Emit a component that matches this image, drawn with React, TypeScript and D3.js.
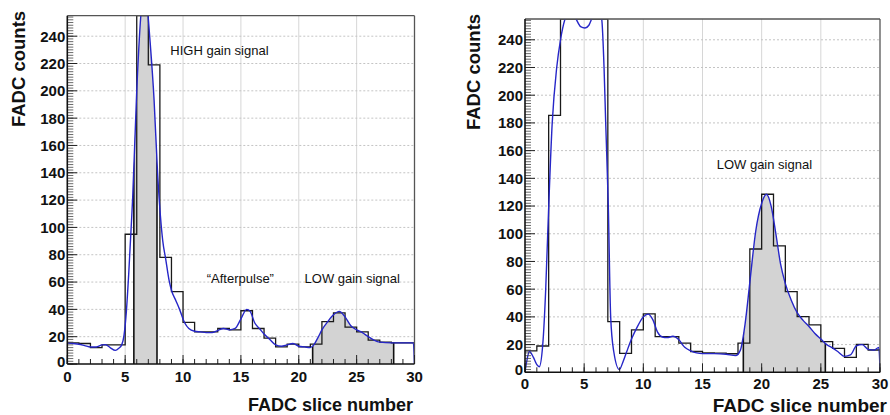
import React from "react";
import * as d3 from "d3";

const W = 890;
const H = 415;

const xTickValues = [0, 5, 10, 15, 20, 25, 30];
const yTickValues = [0, 20, 40, 60, 80, 100, 120, 140, 160, 180, 200, 220, 240];
const xDomain = [0, 30];
const yDomain = [0, 255];

// FADC counts per slice (bin i spans [i, i+1])
const leftHist = [15.5, 15, 12, 14, 14, 95, 255, 219, 78, 53, 30.5, 23.5, 23.5, 26, 25, 39, 26, 19, 12.5, 14.5, 12.5, 14.5, 31, 37.5, 27, 23.5, 17.5, 16, 15.5, 15.5];
const rightHist = [15.5, 19, 185.5, 255, 255, 255, 255, 36.6, 13.7, 30.6, 42.2, 25.8, 25.8, 21, 15, 14, 13.8, 13.4, 21, 89, 128.5, 91.3, 58.3, 40.2, 34.2, 22.1, 17.3, 10.8, 20.2, 16.1];

// interpolated pulse shape (blue): [slice, counts]
const leftCurve: [number, number][] = [
  [0, 15.5], [0.5, 15], [1, 14.5], [1.5, 13.5], [2, 12.5], [2.5, 12.5], [3, 14], [3.3, 14.2], [3.7, 12],
  [4.15, 10], [4.45, 11.5], [4.7, 14], [4.9, 21], [5.1, 38], [5.3, 65], [5.55, 105], [5.65, 122],
  [6.0, 200], [6.35, 255], [6.65, 280], [6.98, 255], [7.1, 242], [7.5, 193], [7.8, 140], [8.05, 108],
  [8.25, 90], [8.5, 77], [8.8, 61], [9.0, 54], [9.4, 46], [9.7, 40], [10.15, 30], [10.5, 26], [11, 24],
  [11.5, 23.5], [12, 23], [12.5, 23], [13, 24.5], [13.5, 26], [14, 25], [14.5, 26], [15, 33], [15.5, 40],
  [15.8, 38.5], [16.2, 30], [16.6, 26], [17, 22], [17.5, 18], [18, 14], [18.5, 13], [19, 14], [19.5, 15],
  [20, 13], [20.5, 12.5], [21, 12], [21.3, 14], [21.7, 20], [22, 25], [22.5, 31], [23, 36], [23.5, 38.5],
  [24, 34.5], [24.5, 28], [25, 25], [25.5, 23], [26, 20], [26.5, 17.5], [27, 16], [28, 15.5], [29, 15.5],
  [29.9, 15.5], [30, 0],
];
const rightCurve: [number, number][] = [
  [0, 0], [0.15, 8], [0.37, 15], [0.7, 11], [1.0, 5.5], [1.2, 4], [1.5, 20], [1.75, 60], [1.92, 100],
  [2.3, 180], [2.68, 220], [3.0, 240], [3.38, 255], [3.8, 262], [4.31, 255], [4.7, 249.5], [5.07, 248.5],
  [5.4, 250.5], [5.63, 255], [6.05, 264], [6.48, 255], [6.68, 220], [6.82, 180], [7.04, 120], [7.24, 40],
  [7.5, 15], [7.97, 2], [8.3, 8], [8.6, 15], [9.0, 24], [9.5, 33], [10.0, 40], [10.4, 42], [10.8, 38],
  [11.2, 29], [11.6, 25.5], [12.0, 25], [12.5, 26], [13.0, 23.5], [13.5, 18], [14.0, 15.5], [14.5, 14],
  [15, 13.5], [16, 13.5], [17, 13], [17.8, 12], [18.2, 16], [18.6, 35], [19, 65], [19.5, 102], [20, 122],
  [20.4, 128.5], [20.8, 120], [21.2, 100], [21.6, 78], [22, 64], [22.5, 52], [23, 43], [23.5, 37.5],
  [24, 33], [24.5, 28], [25, 24], [25.5, 20], [26, 17.5], [26.5, 14.5], [27, 11.5], [27.5, 12.5], [28, 19],
  [28.5, 20], [29, 16.5], [29.5, 16], [29.9, 18], [30, 2],
];

// integration windows [from, to] in slices
const leftWindows: [number, number][] = [[5.75, 7.75], [21.2, 28.2]];
const rightWindows: [number, number][] = [[18.45, 25.38]];

const leftNotes = [
  { text: "HIGH gain signal", x: 8.9, y: 226 },
  { text: "\u201cAfterpulse\u201d", x: 12.05, y: 59 },
  { text: "LOW gain signal", x: 20.5, y: 59 },
];
const rightNotes = [{ text: "LOW gain signal", x: 16.2, y: 146.5 }];

const FONT = "'Liberation Sans', Arial, Helvetica, sans-serif";

type PanelCfg = {
  id: string;
  left: number;
  right: number;
  top: number;
  bottom: number;
  hist: number[];
  curve: [number, number][];
  windows: [number, number][];
  notes: { text: string; x: number; y: number }[];
  yTitle: { x: number; y: number; size: number };
  xTitle: { x: number; y: number; size: number };
  xTickDy: number;
};

function Panel({ p }: { p: PanelCfg }) {
  const x = d3.scaleLinear().domain(xDomain).range([p.left, p.right]);
  const y = d3.scaleLinear().domain(yDomain).range([p.bottom, p.top]);

  const line = d3
    .line<[number, number]>()
    .x((d) => x(d[0]))
    .y((d) => y(d[1]))
    .curve(d3.curveMonotoneX);
  const area = d3
    .area<[number, number]>()
    .x((d) => x(d[0]))
    .y0(y(0))
    .y1((d) => y(d[1]))
    .curve(d3.curveMonotoneX);

  const histPath = (() => {
    const path = d3.path();
    path.moveTo(x(0), y(p.hist[0]));
    p.hist.forEach((v, i) => {
      if (i > 0) path.lineTo(x(i), y(v));
      path.lineTo(x(i + 1), y(v));
    });
    path.lineTo(x(30), y(0));
    return path.toString();
  })();

  const minorY = d3.range(0, 255, 2);
  const minorX = d3.range(0, 31, 1);
  const plotClip = `plot-${p.id}`;
  const areaClip = `area-${p.id}`;

  return (
    <g>
      <defs>
        <clipPath id={plotClip}>
          <rect x={p.left} y={p.top} width={p.right - p.left} height={p.bottom - p.top} />
        </clipPath>
        <clipPath id={areaClip}>
          <path d={area(p.curve) || ""} />
        </clipPath>
        {p.windows.map((w, i) => (
          <clipPath id={`win-${p.id}-${i}`} key={i}>
            <rect x={x(w[0])} y={p.top} width={x(w[1]) - x(w[0])} height={p.bottom - p.top} />
          </clipPath>
        ))}
      </defs>
      <rect x={p.left} y={p.top} width={p.right - p.left} height={p.bottom - p.top} fill="#ffffff" />
      {/* grid */}
      {xTickValues.slice(1, -1).map((t) => (
        <line key={`gx${t}`} x1={x(t)} x2={x(t)} y1={p.top} y2={p.bottom} stroke="#d6d6d6" strokeWidth={1} />
      ))}
      {yTickValues.slice(1).map((t) => (
        <line key={`gy${t}`} x1={p.left} x2={p.right} y1={y(t)} y2={y(t)} stroke="#c4c4c4" strokeWidth={1} strokeDasharray="2,2" />
      ))}
      <g clipPath={`url(#${plotClip})`}>
        {p.windows.map((w, i) => (
          <g key={`w${i}`} clipPath={`url(#win-${p.id}-${i})`}>
            <path d={area(p.curve) || ""} fill="#d3d3d3" stroke="none" />
          </g>
        ))}
        <g clipPath={`url(#${areaClip})`}>
          {p.windows.map((w, i) => (
            <g key={`e${i}`}>
              <line x1={x(w[0])} x2={x(w[0])} y1={p.top} y2={p.bottom} stroke="#111" strokeWidth={1.6} />
              <line x1={x(w[1])} x2={x(w[1])} y1={p.top} y2={p.bottom} stroke="#111" strokeWidth={1.6} />
            </g>
          ))}
        </g>
        <path d={histPath} fill="none" stroke="#1a1a1a" strokeWidth={1.3} />
        <path d={line(p.curve) || ""} fill="none" stroke="#2626c8" strokeWidth={1.4} />
      </g>
      {/* frame */}
      <line x1={p.left} x2={p.right} y1={p.top} y2={p.top} stroke="#555" strokeWidth={1.3} />
      <line x1={p.right} x2={p.right} y1={p.top} y2={p.bottom} stroke="#555" strokeWidth={1.3} />
      {/* y ticks */}
      {minorY.map((t) => (
        <line key={`my${t}`} x1={p.left} x2={p.left + 6} y1={y(t)} y2={y(t)} stroke="#444" strokeWidth={0.8} />
      ))}
      {yTickValues.map((t) => (
        <line key={`My${t}`} x1={p.left} x2={p.left + 10} y1={y(t)} y2={y(t)} stroke="#222" strokeWidth={1} />
      ))}
      {/* x ticks */}
      {minorX.map((t) => (
        <line key={`mx${t}`} x1={x(t)} x2={x(t)} y1={p.bottom} y2={p.bottom - 5} stroke="#222" strokeWidth={1} />
      ))}
      {xTickValues.map((t) => (
        <line key={`Mx${t}`} x1={x(t)} x2={x(t)} y1={p.bottom} y2={p.bottom - 9} stroke="#222" strokeWidth={1} />
      ))}
      <line x1={p.left} x2={p.left} y1={p.top} y2={p.bottom} stroke="#111" strokeWidth={1.6} />
      <line x1={p.left} x2={p.right} y1={p.bottom} y2={p.bottom} stroke="#111" strokeWidth={1.6} />
      {/* tick labels */}
      {yTickValues.map((t) => (
        <text key={`ly${t}`} x={p.left - 2} y={y(t)} dy={t === 0 ? "0.2em" : "0.36em"} textAnchor="end" fontFamily={FONT} fontWeight="bold" fontSize={15} fill="#111">
          {t}
        </text>
      ))}
      {xTickValues.map((t) => (
        <text key={`lx${t}`} x={x(t)} y={p.bottom + p.xTickDy} textAnchor="middle" fontFamily={FONT} fontWeight="bold" fontSize={15} fill="#111">
          {t}
        </text>
      ))}
      {/* notes */}
      {p.notes.map((n) => (
        <text key={n.text} x={x(n.x)} y={y(n.y)} fontFamily={FONT} fontSize={13} fill="#111">
          {n.text}
        </text>
      ))}
      {/* titles */}
      <text
        transform={`translate(${p.yTitle.x},${p.yTitle.y}) rotate(-90)`}
        textAnchor="middle"
        dy="0.36em"
        fontFamily={FONT}
        fontWeight="bold"
        fontSize={p.yTitle.size}
        fill="#111"
      >
        FADC counts
      </text>
      <text x={p.xTitle.x} y={p.xTitle.y} textAnchor="end" fontFamily={FONT} fontWeight="bold" fontSize={p.xTitle.size} fill="#111">
        FADC slice number
      </text>
    </g>
  );
}

const leftPanel: PanelCfg = {
  id: "L",
  left: 67.3,
  right: 414.5,
  top: 15.7,
  bottom: 364,
  hist: leftHist,
  curve: leftCurve,
  windows: leftWindows,
  notes: leftNotes,
  yTitle: { x: 18, y: 69, size: 18.5 },
  xTitle: { x: 413, y: 411, size: 18 },
  xTickDy: 17.5,
};

const rightPanel: PanelCfg = {
  id: "R",
  left: 525,
  right: 880,
  top: 19,
  bottom: 372.3,
  hist: rightHist,
  curve: rightCurve,
  windows: rightWindows,
  notes: rightNotes,
  yTitle: { x: 473.5, y: 72, size: 18.5 },
  xTitle: { x: 887, y: 412, size: 19 },
  xTickDy: 16.5,
};

export default function App() {
  return (
    <svg
      width={W}
      height={H}
      viewBox={`0 0 ${W} ${H}`}
      style={{ position: "absolute", left: 0, top: 0, background: "#fff" }}
    >
      <rect width={W} height={H} fill="#fff" />
      <Panel p={leftPanel} />
      <Panel p={rightPanel} />
    </svg>
  );
}
